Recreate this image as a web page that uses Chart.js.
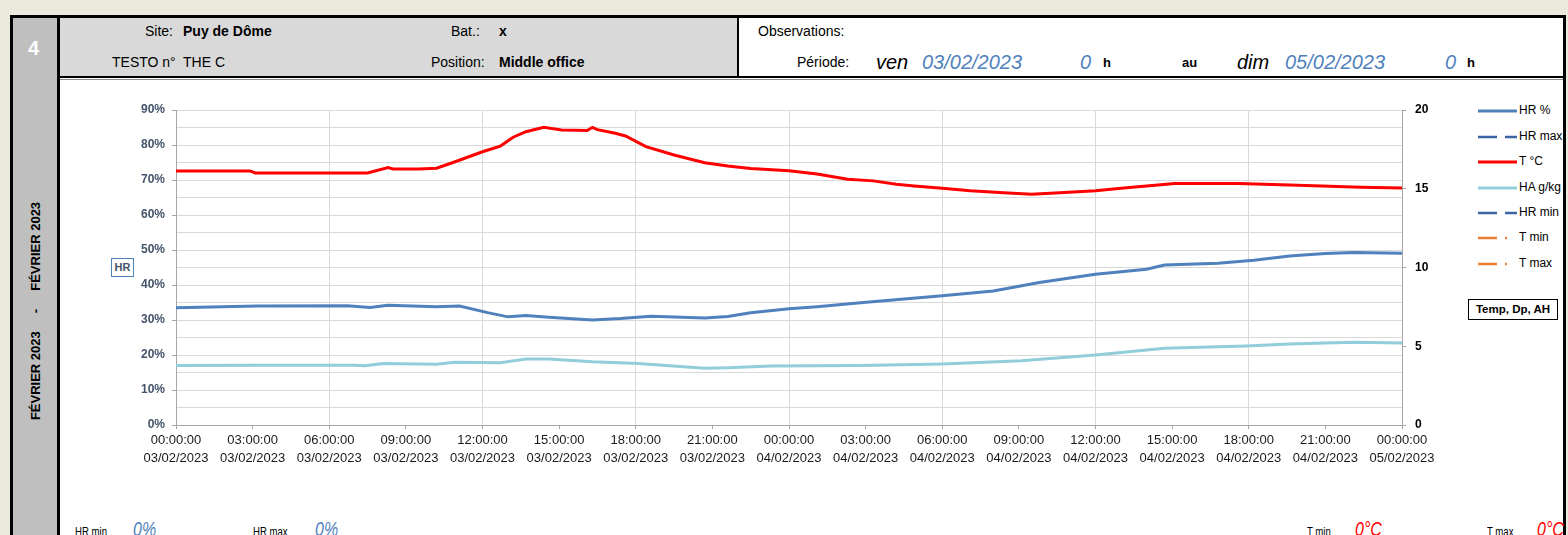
<!DOCTYPE html>
<html>
<head>
<meta charset="utf-8">
<script src="https://cdn.jsdelivr.net/npm/chart.js@4.4.0/dist/chart.umd.min.js"></script>
<style>
body { margin:0; width:1568px; height:535px; overflow:hidden; background:#ebe8dc; font-family:'Liberation Sans', Arial, sans-serif; position:relative; }
.abs { position:absolute; white-space:pre; line-height:1; }
.b { font-weight:bold; }
.big { font-size:20px; font-style:italic; }
.blue { color:#4f81bd; }
.red { color:#ff0000; }
.etroit { transform:scaleX(0.8); transform-origin:left center; }
</style>
</head>
<body>
<!-- cadre -->
<div class="abs" style="left:10px;top:15px;width:1556px;height:520px;background:#fff;border-top:3px solid #000;border-left:3px solid #000;box-sizing:border-box;"></div>
<div class="abs" style="left:1563px;top:15px;width:3px;height:520px;background:#000;"></div>
<div class="abs" style="left:13px;top:18px;width:44px;height:517px;background:#bfbfbf;border-right:3px solid #000;"></div>
<div class="abs b" style="left:28px;top:38px;font-size:20px;color:#fff;">4</div>
<div class="abs b" style="left:35px;top:311px;font-size:13px;color:#000;transform:translate(-50%,-50%) rotate(-90deg);">FÉVRIER 2023     -     FÉVRIER 2023</div>

<!-- entete -->
<div class="abs" style="left:60px;top:18px;width:677px;height:58px;background:#d9d9d9;"></div>
<div class="abs" style="left:737px;top:18px;width:2px;height:60px;background:#000;"></div>
<div class="abs" style="left:60px;top:76px;width:1503px;height:2px;background:#000;"></div>
<div class="abs" style="left:60px;top:79px;width:1503px;height:1px;background:#8c8c8c;"></div>

<div class="abs" style="left:145px;top:24px;font-size:14px;">Site:</div>
<div class="abs b" style="left:183px;top:24px;font-size:14px;">Puy de Dôme</div>
<div class="abs" style="left:451px;top:24px;font-size:14px;">Bat.:</div>
<div class="abs b" style="left:499px;top:24px;font-size:14px;">x</div>
<div class="abs" style="left:112px;top:55px;font-size:14px;">TESTO n°</div>
<div class="abs" style="left:183px;top:55px;font-size:14px;">THE C</div>
<div class="abs" style="left:431px;top:55px;font-size:14px;">Position:</div>
<div class="abs b" style="left:499px;top:55px;font-size:14px;">Middle office</div>

<div class="abs" style="left:758px;top:24px;font-size:14px;">Observations:</div>
<div class="abs" style="left:797px;top:55px;font-size:14px;">Période:</div>
<div class="abs big" style="left:876px;top:52px;">ven</div>
<div class="abs big blue" style="left:922px;top:52px;">03/02/2023</div>
<div class="abs big blue" style="left:1080px;top:52px;">0</div>
<div class="abs b" style="left:1103px;top:56px;font-size:13px;">h</div>
<div class="abs b" style="left:1182px;top:56px;font-size:13px;">au</div>
<div class="abs big" style="left:1237px;top:52px;">dim</div>
<div class="abs big blue" style="left:1285px;top:52px;">05/02/2023</div>
<div class="abs big blue" style="left:1445px;top:52px;">0</div>
<div class="abs b" style="left:1467px;top:56px;font-size:13px;">h</div>

<!-- graphique -->
<canvas id="graphique" width="1380" height="400" style="position:absolute;left:60px;top:80px;"></canvas>

<div class="abs b" style="left:111px;top:258px;width:21px;height:17px;border:1px solid #4f81bd;font-size:11px;color:#44546a;line-height:17px;text-align:center;background:#fff;">HR</div>
<div class="abs b" style="left:1468px;top:299px;width:88px;height:19px;border:1px solid #000;font-size:11.5px;line-height:19px;text-align:center;background:#fff;">Temp, Dp, AH</div>

<!-- legende -->
<svg class="abs" style="left:1478px;top:100px;" width="42" height="180">
  <line x1="0" x2="39" y1="11" y2="11" stroke="#4f81bd" stroke-width="3"/>
  <line x1="0" x2="39" y1="37" y2="37" stroke="#3b64a3" stroke-width="2.5" stroke-dasharray="19 8 12"/>
  <line x1="0" x2="39" y1="62" y2="62" stroke="#ff0000" stroke-width="3"/>
  <line x1="0" x2="39" y1="88" y2="88" stroke="#92cddc" stroke-width="3"/>
  <line x1="0" x2="39" y1="113" y2="113" stroke="#3b64a3" stroke-width="2.5" stroke-dasharray="19 8 12"/>
  <line x1="0" x2="39" y1="138" y2="138" stroke="#ed7d31" stroke-width="2.5" stroke-dasharray="19 8 2 20"/>
  <line x1="0" x2="39" y1="164" y2="164" stroke="#ed7d31" stroke-width="2.5" stroke-dasharray="19 8 2 20"/>
</svg>
<div class="abs" style="left:1519px;top:104px;font-size:12px;">HR %</div>
<div class="abs" style="left:1519px;top:130px;font-size:12px;">HR max</div>
<div class="abs" style="left:1519px;top:155px;font-size:12px;">T °C</div>
<div class="abs" style="left:1519px;top:181px;font-size:12px;">HA g/kg</div>
<div class="abs" style="left:1519px;top:206px;font-size:12px;">HR min</div>
<div class="abs" style="left:1519px;top:231px;font-size:12px;">T min</div>
<div class="abs" style="left:1519px;top:257px;font-size:12px;">T max</div>

<!-- bas de page -->
<div class="abs etroit" style="left:75px;top:526px;font-size:12px;">HR min</div>
<div class="abs blue etroit" style="left:133px;top:519px;font-size:20px;font-style:italic;">0%</div>
<div class="abs etroit" style="left:253px;top:526px;font-size:12px;">HR max</div>
<div class="abs blue etroit" style="left:315px;top:519px;font-size:20px;font-style:italic;">0%</div>
<div class="abs etroit" style="left:1307px;top:526px;font-size:12px;">T min</div>
<div class="abs red etroit" style="left:1355px;top:519px;font-size:20px;font-style:italic;">0°C</div>
<div class="abs etroit" style="left:1487px;top:526px;font-size:12px;">T max</div>
<div class="abs red etroit" style="left:1537px;top:519px;font-size:20px;font-style:italic;">0°C</div>

<script>
// heures depuis le 03/02/2023 00:00
const tHeures = [0, 2.9, 3.1, 7.5, 8.3, 8.5, 9.5, 10.2, 10.9, 12, 12.7, 13.2, 13.7, 14.4, 15.1, 16.1, 16.3, 16.5, 17.2, 17.6, 18.4, 19.5, 20.7, 21.6, 22.5, 24, 25.1, 26.3, 27.3, 28.2, 28.9, 30, 31.1, 32.4, 33.5, 34.6, 36, 37, 38, 39.1, 41.6, 43.6, 46.4, 48];
const tValeurs = [16.13, 16.13, 16.0, 16.0, 16.34, 16.25, 16.25, 16.3, 16.7, 17.35, 17.71, 18.27, 18.62, 18.9, 18.73, 18.7, 18.9, 18.75, 18.52, 18.35, 17.67, 17.14, 16.65, 16.44, 16.28, 16.15, 15.94, 15.6, 15.5, 15.28, 15.18, 15.03, 14.88, 14.75, 14.65, 14.75, 14.88, 15.03, 15.17, 15.34, 15.34, 15.24, 15.09, 15.05];

const hrHeures = [0, 3.2, 6.7, 7.6, 8.3, 10.2, 11.1, 12.2, 13, 13.7, 14.6, 16.3, 17.4, 18.6, 20.7, 21.6, 22.5, 24, 25.1, 26.8, 30, 32, 33.8, 36, 38, 38.7, 40.8, 42.2, 43.6, 45, 46.1, 48];
const hrValeurs = [33.5, 34.0, 34.1, 33.6, 34.2, 33.8, 34.0, 32.1, 30.9, 31.3, 30.8, 30.0, 30.4, 31.1, 30.6, 31.0, 32.1, 33.2, 33.8, 34.9, 36.9, 38.3, 40.7, 43.1, 44.5, 45.7, 46.2, 47.1, 48.3, 49.0, 49.3, 49.1];

const haHeures = [0, 3.2, 7, 7.4, 8.1, 10.2, 10.9, 12.7, 13.7, 14.6, 16.3, 18.1, 20.7, 21.6, 23.3, 26.8, 30, 33.1, 36, 38.7, 41.9, 43.6, 46.1, 48];
const haValeurs = [3.77, 3.8, 3.8, 3.76, 3.91, 3.85, 3.99, 3.95, 4.19, 4.19, 4.02, 3.91, 3.6, 3.63, 3.74, 3.77, 3.88, 4.08, 4.44, 4.87, 5.02, 5.14, 5.25, 5.2];

const jours = ['03/02/2023', '04/02/2023', '05/02/2023'];

function points(heures, valeurs) {
    return heures.map((h, i) => ({ x: h, y: valeurs[i] }));
}

function etiquetteX(v) {
    const jour = Math.floor(v / 24);
    const h = v % 24;
    return [(h < 10 ? '0' + h : '' + h) + ':00:00', jours[jour]];
}

const gris = '#a6a6a6';
const grille = '#d9d9d9';

const config = {
    type: 'line',
    data: {
        datasets: [
            { label: 'HA g/kg', data: points(haHeures, haValeurs), yAxisID: 'y1', borderColor: '#92cddc', borderWidth: 3 },
            { label: 'HR %', data: points(hrHeures, hrValeurs), yAxisID: 'y', borderColor: '#4f81bd', borderWidth: 3 },
            { label: 'T °C', data: points(tHeures, tValeurs), yAxisID: 'y1', borderColor: '#ff0000', borderWidth: 3 }
        ]
    },
    options: {
        responsive: false,
        animation: false,
        parsing: false,
        elements: { point: { radius: 0 }, line: { tension: 0 } },
        layout: { padding: { top: 30, left: 0, right: 0, bottom: 0 } },
        plugins: { legend: { display: false }, tooltip: { enabled: false } },
        scales: {
            x: {
                type: 'linear',
                min: 0,
                max: 48,
                afterFit: s => { s.height = 55; },
                border: { color: gris },
                grid: {
                    color: c => (c.tick && c.tick.value % 6 === 0) ? grille : 'rgba(0,0,0,0)',
                    tickColor: gris,
                    tickLength: 4
                },
                ticks: {
                    stepSize: 3,
                    autoSkip: false,
                    maxRotation: 0,
                    minRotation: 0,
                    padding: 2,
                    color: '#1a1a1a',
                    font: { size: 13, lineHeight: 1.4 },
                    callback: v => etiquetteX(v)
                }
            },
            y: {
                position: 'left',
                min: 0,
                max: 90,
                afterFit: s => { s.width = 116; },
                border: { color: gris },
                grid: {
                    color: grille,
                    tickColor: c => (c.tick && c.tick.value % 10 === 0) ? gris : 'rgba(0,0,0,0)',
                    tickLength: 4
                },
                ticks: {
                    stepSize: 5,
                    padding: 7,
                    color: '#44546a',
                    font: { size: 12, weight: 'bold' },
                    callback: v => v % 10 === 0 ? v + '%' : ''
                }
            },
            y1: {
                position: 'right',
                min: 0,
                max: 20,
                afterFit: s => { s.width = 38; },
                border: { color: gris },
                grid: { drawOnChartArea: false, tickColor: gris, tickLength: 4 },
                ticks: {
                    stepSize: 5,
                    padding: 9,
                    color: '#000',
                    font: { size: 12, weight: 'bold' }
                }
            }
        }
    }
};

const graphique = new Chart(document.getElementById('graphique'), config);
</script>
</body>
</html>
